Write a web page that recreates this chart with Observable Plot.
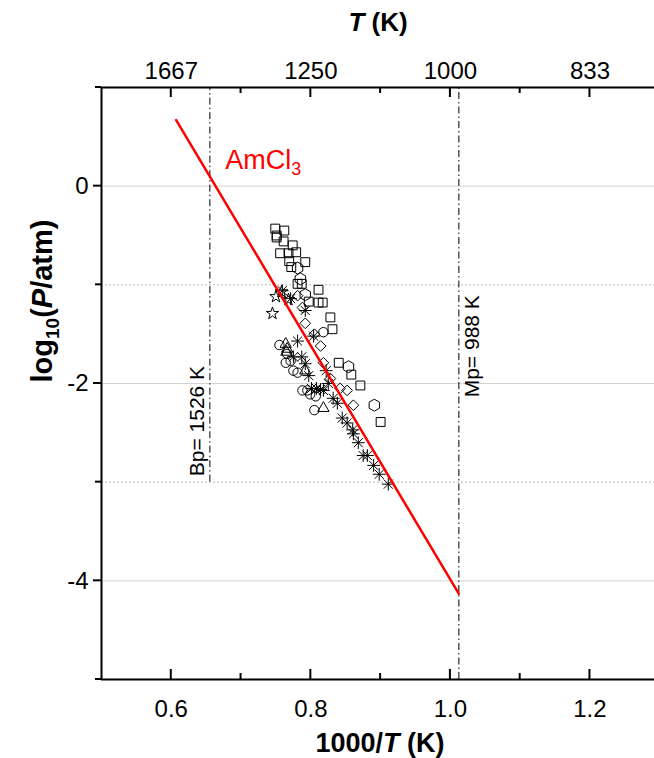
<!DOCTYPE html>
<html><head><meta charset="utf-8">
<script src="https://cdn.jsdelivr.net/npm/d3@7"></script>
<script src="https://cdn.jsdelivr.net/npm/@observablehq/plot@0.6"></script>
<style>body{margin:0;background:#fff}</style>
</head><body><div id="chart"></div>
<script>
// ---- data (x = 1000/T in 1/K, y = log10(P/atm)) ----
const squares = [[0.749,-0.43],[0.762,-0.45],[0.751,-0.50],[0.751,-0.52],[0.761,-0.56],[0.774,-0.60],[0.756,-0.68],[0.768,-0.68],[0.779,-0.67],[0.769,-0.76],[0.792,-0.77],[0.772,-0.82],[0.781,-0.99],[0.787,-0.99],[0.811,-1.05],[0.797,-1.17],[0.811,-1.18],[0.817,-1.18],[0.828,-1.33],[0.831,-1.45],[0.840,-1.79],[0.858,-1.91],[0.871,-2.02],[0.900,-2.39]];
const hexagons = [[0.781,-0.83],[0.785,-0.94],[0.792,-1.10],[0.854,-1.83],[0.891,-2.22]];
const diamonds = [[0.781,-1.11],[0.788,-1.23],[0.792,-1.39],[0.805,-1.50],[0.814,-1.62],[0.818,-1.79],[0.828,-1.95],[0.842,-2.05],[0.852,-2.07],[0.861,-2.22]];
const stars = [[0.750,-1.12],[0.745,-1.29],[0.758,-1.07],[0.768,-1.15]];
const asterisks = [[0.759,-1.06],[0.771,-1.14],[0.792,-1.26],[0.781,-1.57],[0.804,-1.52],[0.775,-1.73],[0.787,-1.73],[0.792,-1.80],[0.797,-1.92],[0.801,-2.05],[0.808,-2.05],[0.814,-2.06],[0.818,-2.07],[0.822,-1.87],[0.825,-2.00],[0.832,-2.15],[0.838,-2.20],[0.845,-2.35],[0.852,-2.40],[0.860,-2.47],[0.861,-2.51],[0.868,-2.60],[0.875,-2.73],[0.881,-2.73],[0.890,-2.83],[0.898,-2.92],[0.911,-3.02]];
const circles = [[0.755,-1.61],[0.766,-1.70],[0.764,-1.79],[0.771,-1.77],[0.775,-1.87],[0.781,-1.89],[0.788,-2.07],[0.795,-2.07],[0.799,-2.11],[0.807,-2.13],[0.805,-2.27],[0.818,-1.48]];
const triangles = [[0.764,-1.60],[0.766,-1.65],[0.765,-1.68],[0.792,-1.87],[0.818,-2.25]];
const fitX = [0.607, 1.012];
const fitY = [0.67, -4.13];
const bp = 1000/1526, mp = 1000/988;
const xMajor = [0.6, 0.8, 1.0, 1.2];
const xMinor = [0.7, 0.9, 1.1];
const topLabels = ["1667", "1250", "1000", "833"];
const yMajor = [0, -2, -4];
const yMinor = [1, -1, -3, -5];

const FONT = "'Liberation Sans', Arial, Helvetica, sans-serif";
const W = 654, H = 758, mL = 101, mR = 0, mT = 87, mB = 79;
const xDom = [0.5, 1.2925], yDom = [-5, 1];

const sym = (data, symbol, r) => Plot.dot(data, {x: d => d[0], y: d => d[1], symbol, r, stroke: "black", fill: "none", strokeWidth: 1});

const plot = Plot.plot({
  width: W, height: H, marginLeft: mL, marginRight: mR, marginTop: mT, marginBottom: mB,
  style: {fontFamily: FONT, background: "white", color: "black"},
  x: {domain: xDom, axis: null},
  y: {domain: yDom, axis: null},
  marks: [
    Plot.ruleY(yMajor, {stroke: "#d4d4d4", strokeWidth: 1}),
    Plot.ruleY([-1, -3], {stroke: "#b8b8b8", strokeWidth: 1, strokeDasharray: "2,2"}),
    Plot.ruleX([bp], {y1: -3, y2: 1, stroke: "black", strokeWidth: 1, strokeDasharray: "7,3,1.5,3"}),
    Plot.ruleX([mp], {y1: -5, y2: 1, stroke: "black", strokeWidth: 1, strokeDasharray: "7,3,1.5,3"}),
    Plot.text(["Bp= 1526 K"], {x: bp, y: -2.94, text: d => d, rotate: -90, textAnchor: "start", dx: -13, fontSize: 21, fill: "black"}),
    Plot.text(["Mp= 988 K"], {x: mp, y: -2.14, text: d => d, rotate: -90, textAnchor: "start", dx: 13, fontSize: 21, fill: "black"}),
    sym(squares, "square", 5),
    sym(hexagons, "hexagon", 5.2),
    sym(diamonds, "diamond2", 4.8),
    sym(stars, "star", 3.9),
    sym(circles, "circle", 4.7),
    sym(triangles, "triangle2", 5.4),
    sym(asterisks, "plus", 4.2),
    sym(asterisks, "times", 4.2),
    Plot.line(fitX.map((x, i) => [x, fitY[i]]), {x: d => d[0], y: d => d[1], stroke: "red", strokeWidth: 2.5}),
    // frame
    Plot.ruleX([xDom[0]], {stroke: "black", strokeWidth: 2}),
    Plot.ruleY(yDom, {stroke: "black", strokeWidth: 2}),
    // tick labels
    Plot.axisX({anchor: "bottom", ticks: xMajor, tickSize: 0, tickPadding: 20, tickFormat: d => d.toFixed(1), label: null, fontSize: 24}),
    Plot.axisX({anchor: "top", ticks: xMajor, tickSize: 0, tickPadding: 9, tickFormat: (d, i) => topLabels[i], label: null, fontSize: 24}),
    Plot.axisY({anchor: "left", ticks: yMajor, tickSize: 0, tickPadding: 13, tickFormat: d => String(d), label: null, fontSize: 24})
  ]
});

const svg = d3.select(plot);
const sx = plot.scale("x"), sy = plot.scale("y");
// tick marks placed with Plot's scales: inward on top/bottom, outward on the left
const gt = svg.append("g").attr("stroke", "black").attr("stroke-width", 2);
const yTop = sy.apply(yDom[1]), yBot = sy.apply(yDom[0]), xLeft = sx.apply(xDom[0]);
const addX = (vals, len) => vals.forEach(v => {
  const px = sx.apply(v);
  gt.append("line").attr("x1", px).attr("x2", px).attr("y1", yBot).attr("y2", yBot - len);
  gt.append("line").attr("x1", px).attr("x2", px).attr("y1", yTop).attr("y2", yTop + len);
});
addX(xMajor, 10);
addX(xMinor, 6);
const addY = (vals, len) => vals.forEach(v => {
  const py = sy.apply(v);
  gt.append("line").attr("x1", xLeft - len).attr("x2", xLeft).attr("y1", py).attr("y2", py);
});
addY(yMajor, 8);
addY(yMinor, 6);

// AmCl3 label
const am = svg.append("text").attr("x", sx.apply(0.678)).attr("y", sy.apply(0.17))
  .attr("text-anchor", "start").attr("fill", "red").attr("font-size", 27).attr("font-family", FONT);
am.append("tspan").text("AmCl");
am.append("tspan").attr("font-size", 18).attr("dy", 6).text("3");
// top title
const tt = svg.append("text").attr("x", 378).attr("y", 31).attr("text-anchor", "middle")
  .attr("font-size", 26).attr("font-weight", "bold").attr("font-family", FONT);
tt.append("tspan").attr("font-style", "italic").text("T");
tt.append("tspan").text(" (K)");
// bottom title
const bt = svg.append("text").attr("x", 380).attr("y", 752).attr("text-anchor", "middle")
  .attr("font-size", 27).attr("font-weight", "bold").attr("font-family", FONT);
bt.append("tspan").text("1000/");
bt.append("tspan").attr("font-style", "italic").text("T");
bt.append("tspan").text(" (K)");
// y title
const yt = svg.append("text").attr("transform", "translate(52,301) rotate(-90)").attr("text-anchor", "middle")
  .attr("font-size", 29).attr("font-weight", "bold").attr("font-family", FONT);
yt.append("tspan").text("log");
yt.append("tspan").attr("font-size", 19).attr("dy", 7).text("10");
yt.append("tspan").attr("dy", -7).text("(");
yt.append("tspan").attr("font-style", "italic").text("P");
yt.append("tspan").text("/atm)");

document.getElementById("chart").appendChild(plot);
</script>
</body></html>
